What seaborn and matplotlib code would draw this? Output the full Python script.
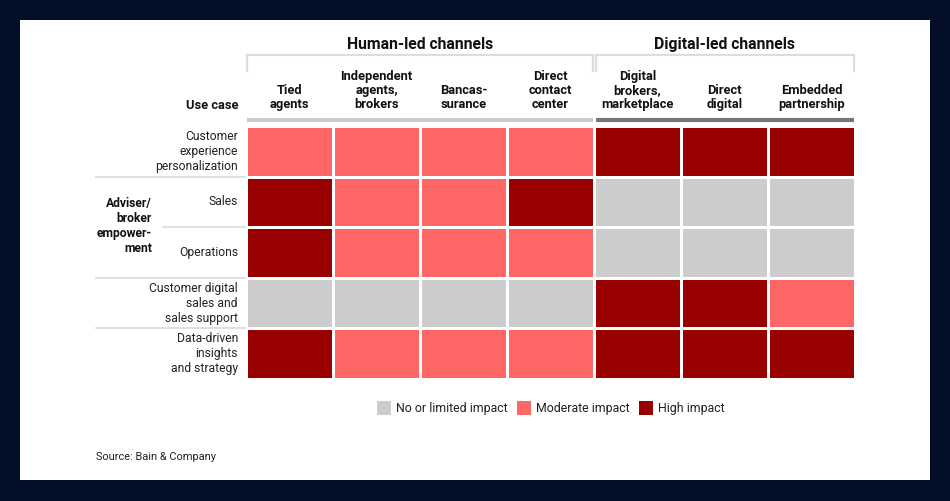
import numpy as np
import pandas as pd
import matplotlib
matplotlib.use("Agg")
import matplotlib.pyplot as plt
from matplotlib.colors import ListedColormap
from matplotlib.patches import Rectangle, Patch
import seaborn as sns

# ---------------- data ----------------
channels = ["Tied\nagents", "Independent\nagents,\nbrokers", "Bancas-\nsurance",
            "Direct\ncontact\ncenter", "Digital\nbrokers,\nmarketplace",
            "Direct\ndigital", "Embedded\npartnership"]
use_cases = ["Customer\nexperience\npersonalization", "Sales", "Operations",
             "Customer digital\nsales and\nsales support",
             "Data-driven\ninsights\nand strategy"]
groups = ["Human-led channels", "Digital-led channels"]
group_sizes = [4, 3]
impact_labels = ["No or limited impact", "Moderate impact", "High impact"]
# 0 = no/limited, 1 = moderate, 2 = high
row_customer_exp = [1, 1, 1, 1, 2, 2, 2]
row_sales = [2, 1, 1, 2, 0, 0, 0]
row_operations = [2, 1, 1, 1, 0, 0, 0]
row_digital_sales = [0, 0, 0, 0, 2, 2, 1]
row_data_driven = [2, 1, 1, 1, 2, 2, 2]
sub_group_label = "Adviser/\nbroker\nempower-\nment"
source_text = "Source: Bain & Company"

impact = pd.DataFrame([row_customer_exp, row_sales, row_operations,
                       row_digital_sales, row_data_driven],
                      index=use_cases, columns=channels)

colors = ["#cccccc", "#ff6666", "#990000"]
navy = "#020f27"
FONT = ["Roboto", "DejaVu Sans"]

W, H = 950, 501
fig = plt.figure(figsize=(W / 100, H / 100), dpi=100, facecolor=navy)
plt.rcParams["font.family"] = FONT

# overlay axes in pixel coordinates (y downwards)
ov = fig.add_axes([0, 0, 1, 1], zorder=0)
ov.set_xlim(0, W)
ov.set_ylim(H, 0)
ov.axis("off")
ov.add_patch(Rectangle((20, 20), 910, 460, facecolor="white", edgecolor="none"))

# heatmap area
x0, x1, y0, y1 = 246, 855, 126, 379
hax = fig.add_axes([x0 / W, 1 - y1 / H, (x1 - x0) / W, (y1 - y0) / H], zorder=2)
sns.heatmap(impact, ax=hax, cmap=ListedColormap(colors), vmin=-0.5, vmax=2.5,
            cbar=False, linewidths=2, linecolor="white", square=False)
hax.set_xticks([])
hax.set_yticks([])
hax.set_xlabel("")
hax.set_ylabel("")

ncol = len(channels)
cw = (x1 - x0) / ncol
rh = (y1 - y0) / len(use_cases)

# column labels
for i, lab in enumerate(channels):
    ov.text(x0 + cw * (i + 0.5), 111, lab, ha="center", va="bottom",
            fontsize=9.3, fontweight="bold", color="#111111", linespacing=1.1)

ov.text(238, 105, "Use case", ha="right", va="center", fontsize=9.3,
        fontweight="bold", color="#111111")

# group brackets and titles
gx = [(247, 593), (596, 854)]
under_col = ["#cccccc", "#777777"]
for g, (gname, gs) in enumerate(zip(groups, group_sizes)):
    a, b = gx[g]
    ov.plot([a, a, b, b], [71, 55, 55, 71], color="#dddddd", lw=1.6,
            solid_joinstyle="miter")
    ov.text((a + b) / 2, 44, gname, ha="center", va="center", fontsize=11.3,
            fontweight="bold", color="#111111")
    ov.plot([a, b], [120, 120], color=under_col[g], lw=3, solid_capstyle="butt")

# row labels
for j, lab in enumerate(use_cases):
    ov.text(238, y0 + rh * (j + 0.5), lab, ha="right", va="center",
            fontsize=8.7, color="#222222", linespacing=1.2)

ov.text(152, 226, sub_group_label, ha="right", va="center", fontsize=8.7,
        fontweight="bold", color="#111111", linespacing=1.2)

# separator lines
sep = "#d9d9d9"
ov.plot([96, 247], [y0 + rh, y0 + rh], color=sep, lw=1.2)
ov.plot([163, 247], [y0 + 2 * rh, y0 + 2 * rh], color=sep, lw=1.2)
ov.plot([96, 247], [y0 + 3 * rh, y0 + 3 * rh], color=sep, lw=1.2)
ov.plot([96, 247], [y0 + 4 * rh, y0 + 4 * rh], color=sep, lw=1.2)

# legend
handles = [Patch(facecolor=c, edgecolor="none") for c in colors]
fig.legend(handles, impact_labels, loc="center", bbox_to_anchor=(551 / W, 1 - 408 / H),
           ncol=3, frameon=False, fontsize=8.9, handlelength=1.1, handleheight=1.3,
           handletextpad=0.4, columnspacing=0.8, labelcolor="#222222")

ov.text(96, 457, source_text, ha="left", va="center", fontsize=7.9, color="#222222")

fig.savefig("out.png", dpi=100, facecolor=navy)
